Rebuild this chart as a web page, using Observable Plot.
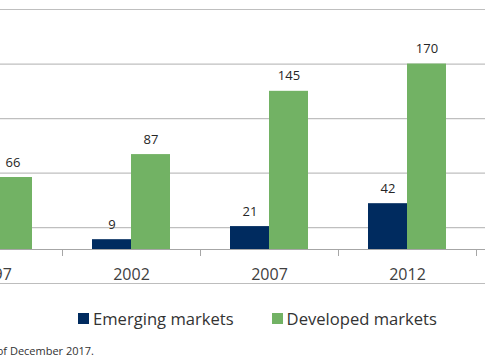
<!DOCTYPE html>
<html><head><meta charset="utf-8">
<script src="https://cdn.jsdelivr.net/npm/d3@7"></script>
<script src="https://cdn.jsdelivr.net/npm/@observablehq/plot@0.6"></script>
<style>
body{margin:0;background:#fff;font-family:"Open Sans",sans-serif;overflow:hidden;width:485px;height:360px;position:relative}
#chart{border-bottom:1px solid #bdbdbd;width:485px}
#chart svg{display:block;overflow:visible}
.legend{position:absolute;top:307px;left:78px;display:flex;align-items:center;font-size:16.6px;color:#333;white-space:nowrap}
.legend .item{display:flex;align-items:center;margin-right:38px}
.legend .sw{width:11px;height:11px;margin-right:4px}
.note{position:absolute;right:391px;top:343px;font-size:11px;color:#333;white-space:nowrap}
</style></head><body>
<div id="chart"></div>
<div class="legend" id="legend"></div>
<div class="note">As of December 2017.</div>
<script>
const years = [1997, 2002, 2007, 2012];
const emerging = [null, 9, 21, 42];
const developed = [66, 87, 145, 170];
const gridValues = [20, 70, 120, 170, 220];
const seriesNames = ["Emerging markets", "Developed markets"];
const seriesColors = ["#002b5f", "#72b264"];

const emRows = years.map((y, i) => ({year: y, value: emerging[i]})).filter(d => d.value != null);
const dvRows = years.map((y, i) => ({year: y, value: developed[i]})).filter(d => d.value != null);

const chart = Plot.plot({
  width: 485,
  height: 283,
  marginTop: 9,
  marginBottom: 34,
  marginLeft: 0,
  marginRight: 0,
  style: {fontFamily: "Open Sans", fontSize: "16px", color: "#404040", background: "#fff", overflow: "visible"},
  x: {type: "band", domain: years, range: [-76.3, 475.7], paddingInner: 0, paddingOuter: 0, label: null},
  y: {domain: [0, 220], axis: null},
  marks: [
    Plot.ruleY(gridValues, {stroke: "#bfbfbf", strokeWidth: 1.2}),
    Plot.barY(emRows, {x: "year", y: "value", fill: seriesColors[0], insetLeft: 30, insetRight: 69}),
    Plot.barY(dvRows, {x: "year", y: "value", fill: seriesColors[1], insetLeft: 69, insetRight: 30}),
    Plot.text(emRows, {x: "year", y: "value", text: d => String(d.value), dx: -19.5, dy: -11, lineAnchor: "bottom", fontSize: 13, fill: "#262626"}),
    Plot.text(dvRows, {x: "year", y: "value", text: d => String(d.value), dx: 19.5, dy: -11, lineAnchor: "bottom", fontSize: 13, fill: "#262626"}),
    Plot.ruleY([0], {stroke: "#a6a6a6", strokeWidth: 1.2}),
    Plot.ruleX(years, {x: d => d, dx: 69, y1: 0, y2: 0, insetBottom: -7, stroke: "#a6a6a6"}),
    Plot.axisX({tickSize: 0, tickPadding: 19, fontSize: 16, fill: "#404040", label: null, tickFormat: d => String(d)})
  ]
});
document.getElementById("chart").appendChild(chart);

const lg = document.getElementById("legend");
seriesNames.forEach((n, i) => {
  const it = document.createElement("div");
  it.className = "item";
  const sw = document.createElement("span");
  sw.className = "sw";
  sw.style.background = seriesColors[i];
  const t = document.createElement("span");
  t.textContent = n;
  it.appendChild(sw); it.appendChild(t);
  lg.appendChild(it);
});
</script>
</body></html>
